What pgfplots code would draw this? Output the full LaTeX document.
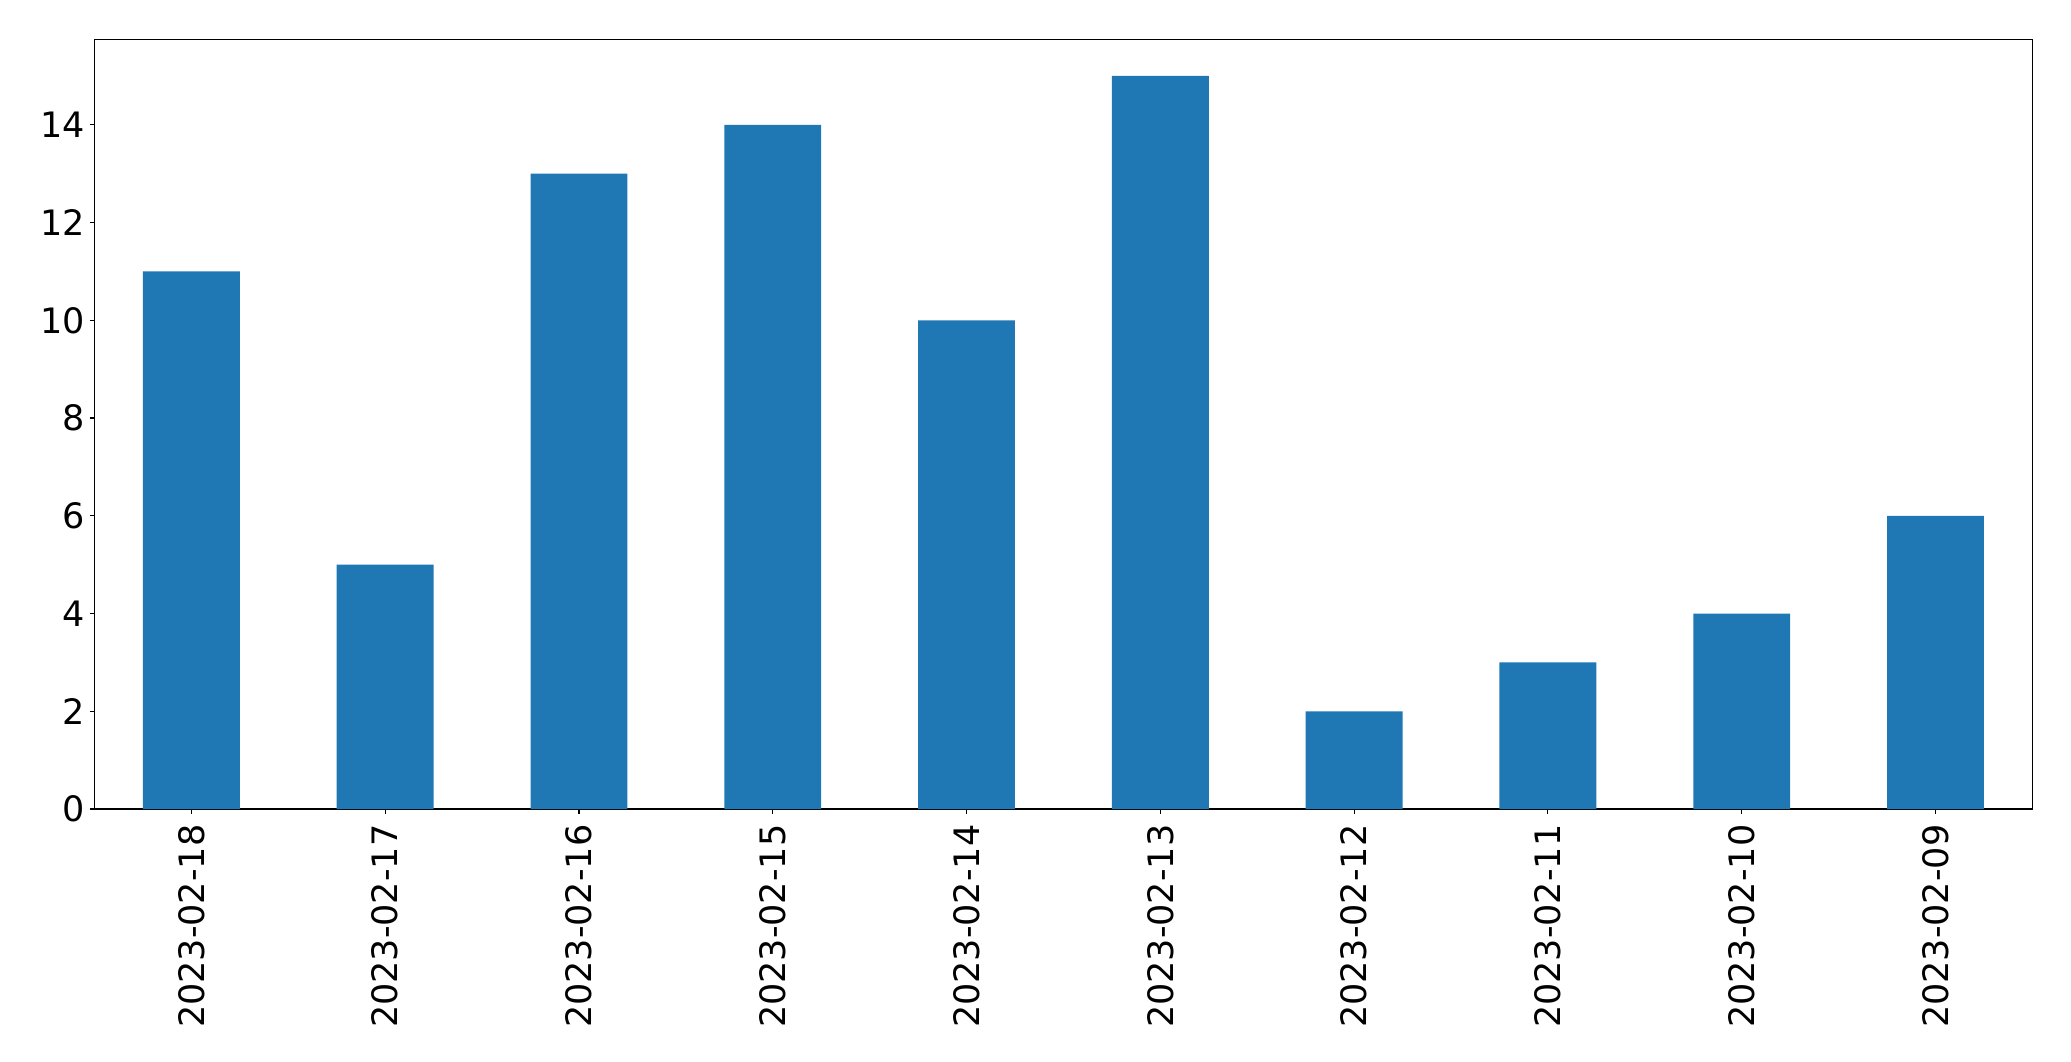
\documentclass[border=0pt]{standalone}
\usepackage{fontspec}
\setmainfont{DejaVu Sans}
\usepackage{pgfplots}
\pgfplotsset{compat=1.18}
\definecolor{tabblue}{HTML}{1F77B4}
\begin{document}
\begin{tikzpicture}
\useasboundingbox (-68.04pt,-181.44pt) rectangle (1423.08pt,582.48pt);
\begin{axis}[
  at={(0,0)}, anchor=south west,
  scale only axis, width=1395.2pt, height=554.2pt,
  xmin=-0.5, xmax=9.5, ymin=0, ymax=15.75,
  ybar, bar width=0.5,
  xtick={0,...,9},
  xticklabels={2023-02-18,2023-02-17,2023-02-16,2023-02-15,2023-02-14,2023-02-13,2023-02-12,2023-02-11,2023-02-10,2023-02-09},
  ytick={0,2,...,14},
  xtick pos=bottom, ytick pos=left,
  tick align=outside, major tick length=3.5pt,
  tick style={black, line width=0.8pt},
  axis line style={line width=0.8pt},
  /pgf/number format/assume math mode=true,
  ticklabel style={font=\fontsize{25.2}{30}\selectfont},
  xticklabel style={rotate=90, anchor=east, inner sep=0pt, xshift=-7.5pt},
  yticklabel style={inner sep=0pt, xshift=-3pt},
]
\addplot[fill=tabblue, draw=none] coordinates {(0,11) (1,5) (2,13) (3,14) (4,10) (5,15) (6,2) (7,3) (8,4) (9,6)};
\end{axis}
\end{tikzpicture}
\end{document}
